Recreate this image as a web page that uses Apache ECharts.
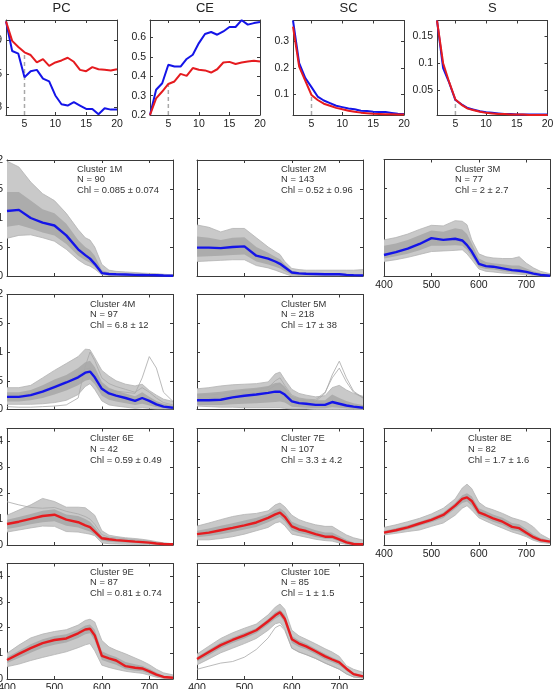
<!DOCTYPE html>
<html>
<head>
<meta charset="utf-8">
<script src="https://cdn.jsdelivr.net/npm/echarts@6/dist/echarts.min.js"></script>
<style>
  html, body { margin: 0; padding: 0; background: #fff; }
  #chart { width: 558px; height: 689px; }
</style>
</head>
<body>
<div id="chart"></div>
<script>
// ---- top row: validity indices vs number of clusters ----
const kValues = [2,3,4,5,6,7,8,9,10,11,12,13,14,15,16,17,18,19,20];
const pcBlue = [0.928,0.884,0.880,0.845,0.854,0.856,0.843,0.839,0.818,0.805,0.803,0.808,0.803,0.798,0.798,0.790,0.799,0.797,0.797];
const pcRed  = [0.928,0.899,0.890,0.882,0.878,0.867,0.872,0.862,0.867,0.870,0.874,0.868,0.856,0.854,0.860,0.857,0.856,0.855,0.857];
const ceBlue = [0.2,0.33,0.364,0.459,0.45,0.45,0.489,0.511,0.571,0.618,0.628,0.614,0.631,0.654,0.654,0.689,0.666,0.674,0.68];
const ceRed  = [0.2,0.286,0.321,0.36,0.373,0.412,0.402,0.442,0.433,0.43,0.419,0.436,0.471,0.474,0.463,0.471,0.476,0.48,0.476];
const scBlue = [0.38,0.218,0.161,0.127,0.091,0.076,0.066,0.056,0.051,0.046,0.043,0.037,0.036,0.033,0.032,0.032,0.029,0.026,0.025];
const scRed  = [0.357,0.205,0.151,0.097,0.078,0.064,0.056,0.048,0.043,0.037,0.033,0.03,0.028,0.026,0.025,0.024,0.024,0.023,0.023];
const sBlue  = [0.18,0.091,0.063,0.031,0.023,0.016,0.013,0.01,0.008,0.007,0.006,0.005,0.005,0.004,0.004,0.004,0.004,0.004,0.004];
const sRed   = [0.18,0.1,0.064,0.032,0.022,0.015,0.012,0.009,0.007,0.006,0.005,0.005,0.004,0.004,0.004,0.003,0.003,0.003,0.003];
const chosenK = 5;

// ---- cluster spectra (wavelength, nm) ----
const wavelengths = [400,425,450,475,500,525,550,565,575,585,600,615,630,650,670,685,700,715,730,750];

const c1Mean   = [1.12,1.14,1.0,0.92,0.87,0.7,0.46,0.36,0.3,0.21,0.05,0.035,0.03,0.025,0.02,0.018,0.015,0.012,0.008,0.005];
const c1Upper  = [1.98,1.88,1.62,1.42,1.3,1.08,0.8,0.66,0.62,0.5,0.2,0.1,0.08,0.07,0.06,0.05,0.045,0.04,0.03,0.02];
const c1Lower  = [0.65,0.7,0.71,0.66,0.6,0.46,0.28,0.2,0.17,0.12,0.02,0.01,0,0,0,0,0,0,0,0];
const c1CoreHi = [1.45,1.45,1.3,1.15,1.08,0.9,0.62,0.5,0.45,0.35,0.1,0.06,0.05,0.04,0.035,0.03,0.03,0.025,0.02,0.01];
const c1CoreLo = [0.85,0.88,0.82,0.75,0.7,0.55,0.35,0.27,0.23,0.16,0.03,0.02,0.015,0.01,0.01,0.008,0.006,0.004,0.002,0];

const c2Mean   = [0.49,0.49,0.48,0.5,0.51,0.35,0.3,0.25,0.21,0.15,0.06,0.045,0.04,0.035,0.03,0.03,0.03,0.02,0.015,0.01];
const c2Upper  = [0.88,0.84,0.76,0.82,0.82,0.66,0.5,0.42,0.37,0.25,0.13,0.11,0.1,0.1,0.1,0.1,0.1,0.1,0.1,0.11];
const c2Lower  = [0.25,0.26,0.27,0.28,0.28,0.18,0.14,0.1,0.07,0.04,0,0,0,0,0,0,0,0,0,0];
const c2CoreHi = [0.68,0.66,0.62,0.66,0.67,0.5,0.4,0.33,0.29,0.2,0.09,0.07,0.06,0.05,0.05,0.05,0.05,0.04,0.03,0.03];
const c2CoreLo = [0.33,0.34,0.35,0.36,0.37,0.25,0.2,0.16,0.13,0.08,0.02,0.01,0.01,0.01,0.01,0.01,0.01,0.005,0,0];

const c3Mean   = [0.36,0.41,0.47,0.55,0.65,0.62,0.64,0.61,0.53,0.42,0.21,0.17,0.16,0.13,0.1,0.09,0.07,0.04,0.02,0.005];
const c3Upper  = [0.62,0.66,0.72,0.8,0.87,0.86,0.95,0.94,0.88,0.62,0.38,0.33,0.31,0.3,0.3,0.33,0.22,0.14,0.08,0.04];
const c3Lower  = [0.25,0.28,0.32,0.37,0.42,0.43,0.44,0.45,0.38,0.28,0.12,0.08,0.07,0.05,0.04,0.03,0.02,0.01,0,0];
const c3CoreHi = [0.52,0.56,0.62,0.7,0.78,0.76,0.82,0.8,0.72,0.56,0.3,0.24,0.22,0.2,0.18,0.18,0.13,0.08,0.05,0.02];
const c3CoreLo = [0.3,0.34,0.38,0.44,0.52,0.52,0.53,0.52,0.45,0.34,0.15,0.12,0.11,0.08,0.06,0.05,0.04,0.02,0.01,0];

const c4Mean   = [0.22,0.22,0.25,0.31,0.39,0.47,0.56,0.64,0.66,0.56,0.36,0.28,0.24,0.2,0.15,0.2,0.15,0.09,0.05,0.03];
const c4Upper  = [0.38,0.38,0.42,0.55,0.68,0.8,0.92,1.05,1.04,0.9,0.68,0.58,0.5,0.44,0.41,0.44,0.33,0.25,0.18,0.14];
const c4Lower  = [0.09,0.09,0.09,0.1,0.12,0.16,0.26,0.4,0.45,0.35,0.15,0.08,0.06,0.04,0.02,0.03,0.02,0.01,0.01,0.01];
const c4CoreHi = [0.3,0.3,0.34,0.42,0.52,0.6,0.72,0.82,0.85,0.74,0.48,0.38,0.33,0.28,0.23,0.3,0.22,0.15,0.1,0.07];
const c4CoreLo = [0.14,0.14,0.16,0.2,0.26,0.33,0.42,0.5,0.52,0.44,0.24,0.17,0.14,0.11,0.08,0.1,0.07,0.04,0.02,0.01];
const c4Extra1 = [0.25,0.25,0.28,0.34,0.42,0.5,0.6,0.7,0.72,0.62,0.42,0.35,0.32,0.3,0.28,0.55,0.92,0.72,0.3,0.14];
const c4Extra2 = [0.05,0.04,0.04,0.05,0.06,0.08,0.2,0.75,1.0,0.85,0.55,0.45,0.4,0.35,0.3,0.38,0.3,0.2,0.12,0.08];

const c5Mean   = [0.16,0.16,0.17,0.21,0.24,0.26,0.29,0.31,0.31,0.26,0.14,0.11,0.1,0.08,0.08,0.13,0.1,0.07,0.05,0.03];
const c5Upper  = [0.36,0.38,0.41,0.43,0.44,0.45,0.48,0.62,0.65,0.52,0.35,0.28,0.25,0.22,0.24,0.38,0.42,0.34,0.28,0.23];
const c5Lower  = [0.06,0.05,0.04,0.04,0.03,0.03,0.03,0.03,0.03,0.02,0.01,0.01,0.01,0,0,0,0,0,0,0];
const c5CoreHi = [0.28,0.29,0.31,0.34,0.36,0.38,0.41,0.46,0.47,0.4,0.24,0.2,0.18,0.16,0.16,0.26,0.2,0.15,0.11,0.08];
const c5CoreLo = [0.08,0.08,0.08,0.09,0.1,0.11,0.12,0.13,0.14,0.12,0.05,0.04,0.03,0.02,0.02,0.04,0.03,0.02,0.01,0.01];
const c5Extra1 = [0.2,0.2,0.22,0.25,0.28,0.3,0.34,0.42,0.45,0.36,0.2,0.16,0.15,0.14,0.28,0.6,0.84,0.55,0.32,0.2];
const c5Extra2 = [0.25,0.25,0.27,0.3,0.33,0.35,0.38,0.5,0.55,0.42,0.25,0.2,0.18,0.17,0.3,0.55,0.72,0.48,0.3,0.2];

const c6Mean   = [0.81,0.9,1.01,1.12,1.17,0.98,0.88,0.76,0.69,0.52,0.26,0.22,0.19,0.16,0.13,0.11,0.09,0.06,0.04,0.03];
const c6Upper  = [1.15,1.35,1.55,1.8,1.68,1.46,1.46,1.44,1.3,1.15,0.55,0.38,0.33,0.28,0.25,0.22,0.18,0.13,0.08,0.05];
const c6Lower  = [0.5,0.58,0.66,0.73,0.72,0.52,0.5,0.45,0.42,0.36,0.08,0.05,0.04,0.03,0.02,0.02,0.01,0,0,0];
const c6CoreHi = [0.98,1.08,1.2,1.32,1.38,1.18,1.12,1.0,0.9,0.7,0.34,0.28,0.25,0.22,0.18,0.16,0.13,0.09,0.06,0.04];
const c6CoreLo = [0.62,0.7,0.8,0.88,0.92,0.74,0.68,0.58,0.52,0.4,0.16,0.13,0.11,0.09,0.07,0.06,0.05,0.03,0.02,0.01];
const c6Extra1 = [1.67,1.55,1.45,1.42,1.45,1.3,1.2,1.1,1.0,0.8,0.4,0.3,0.28,0.24,0.2,0.18,0.15,0.1,0.07,0.05];

const c7Mean   = [0.42,0.48,0.57,0.66,0.76,0.87,1.05,1.18,1.25,1.09,0.72,0.6,0.54,0.42,0.32,0.32,0.22,0.1,0.04,0.03];
const c7Upper  = [0.73,0.85,0.98,1.1,1.18,1.22,1.32,1.55,1.62,1.48,1.15,0.98,0.88,0.78,0.72,0.72,0.55,0.39,0.28,0.19];
const c7Lower  = [0.2,0.2,0.25,0.32,0.42,0.55,0.68,0.85,0.9,0.75,0.42,0.36,0.3,0.22,0.17,0.15,0.08,0.02,0.01,0];
const c7CoreHi = [0.55,0.64,0.74,0.84,0.95,1.05,1.2,1.35,1.42,1.28,0.9,0.78,0.7,0.57,0.48,0.48,0.35,0.2,0.1,0.07];
const c7CoreLo = [0.3,0.35,0.42,0.5,0.6,0.7,0.88,1.0,1.08,0.92,0.56,0.46,0.41,0.31,0.24,0.23,0.14,0.05,0.02,0.01];

const c8Mean   = [0.48,0.57,0.68,0.83,0.97,1.16,1.52,1.78,1.84,1.7,1.26,1.15,1.03,0.9,0.7,0.65,0.47,0.3,0.19,0.13];
const c8Upper  = [0.68,0.78,0.9,1.03,1.2,1.42,1.78,2.2,2.35,2.18,1.65,1.45,1.36,1.22,1.05,0.97,0.88,0.7,0.42,0.22];
const c8Lower  = [0.39,0.45,0.52,0.58,0.72,0.85,1.15,1.42,1.52,1.35,1.05,0.92,0.8,0.65,0.5,0.42,0.32,0.18,0.1,0.06];
const c8CoreHi = [0.55,0.65,0.76,0.9,1.05,1.26,1.62,1.92,2.0,1.88,1.42,1.3,1.18,1.05,0.85,0.8,0.62,0.42,0.27,0.17];
const c8CoreLo = [0.43,0.5,0.6,0.74,0.88,1.04,1.4,1.62,1.68,1.52,1.12,1.02,0.9,0.77,0.58,0.52,0.37,0.22,0.13,0.09];

const c9Mean   = [0.74,0.98,1.2,1.4,1.52,1.58,1.78,1.93,1.96,1.7,0.9,0.8,0.72,0.5,0.44,0.41,0.3,0.17,0.08,0.05];
const c9Upper  = [1.0,1.32,1.6,1.75,1.85,1.92,2.1,2.28,2.33,2.22,1.5,1.25,1.12,0.98,0.82,0.7,0.56,0.38,0.24,0.16];
const c9Lower  = [0.48,0.58,0.72,0.84,0.95,1.06,1.22,1.33,1.38,1.1,0.54,0.45,0.38,0.3,0.25,0.22,0.15,0.07,0.02,0];
const c9CoreHi = [0.85,1.1,1.35,1.55,1.68,1.74,1.92,2.08,2.12,1.92,1.08,0.95,0.86,0.66,0.57,0.52,0.4,0.25,0.13,0.08];
const c9CoreLo = [0.62,0.82,1.02,1.22,1.33,1.42,1.6,1.74,1.78,1.5,0.74,0.64,0.56,0.38,0.32,0.3,0.2,0.1,0.04,0.02];

const c10Mean   = [0.78,1.05,1.32,1.52,1.7,1.9,2.25,2.48,2.6,2.35,1.55,1.38,1.27,1.08,0.88,0.76,0.65,0.4,0.19,0.1];
const c10Upper  = [0.97,1.28,1.58,1.8,1.98,2.14,2.5,2.8,2.92,2.72,1.9,1.68,1.55,1.37,1.18,1.05,0.88,0.52,0.38,0.26];
const c10Lower  = [0.55,0.78,1.02,1.2,1.38,1.58,1.9,2.15,2.2,1.95,1.2,1.05,0.95,0.8,0.62,0.5,0.38,0.2,0.08,0.04];
const c10CoreHi = [0.86,1.14,1.42,1.62,1.8,1.98,2.34,2.6,2.7,2.5,1.68,1.5,1.38,1.18,0.98,0.85,0.72,0.45,0.24,0.14];
const c10CoreLo = [0.68,0.93,1.2,1.4,1.58,1.78,2.12,2.35,2.45,2.2,1.4,1.25,1.15,0.96,0.76,0.65,0.54,0.32,0.14,0.06];
const c10Extra1 = [0.38,0.5,0.62,0.68,0.85,1.15,1.6,2.0,2.1,1.9,1.2,1.05,0.95,0.8,0.62,0.5,0.38,0.2,0.08,0.04];

const wlTicks = [400,500,600,700];
const mTicks = [0,0.5,1,1.5,2];
const eTicks = [0,1,2,3,4];

const clusters = [
  { name: 'Cluster 1M', n: 'N = 90',  chl: 'Chl = 0.085 ± 0.074', type: 'M', mean: c1Mean, upper: c1Upper, lower: c1Lower, hi: c1CoreHi, lo: c1CoreLo, extras: [] },
  { name: 'Cluster 2M', n: 'N = 143', chl: 'Chl = 0.52 ± 0.96', type: 'M', mean: c2Mean, upper: c2Upper, lower: c2Lower, hi: c2CoreHi, lo: c2CoreLo, extras: [] },
  { name: 'Cluster 3M', n: 'N = 77',  chl: 'Chl = 2 ± 2.7', type: 'M', mean: c3Mean, upper: c3Upper, lower: c3Lower, hi: c3CoreHi, lo: c3CoreLo, extras: [] },
  { name: 'Cluster 4M', n: 'N = 97',  chl: 'Chl = 6.8 ± 12', type: 'M', mean: c4Mean, upper: c4Upper, lower: c4Lower, hi: c4CoreHi, lo: c4CoreLo, extras: [c4Extra1, c4Extra2] },
  { name: 'Cluster 5M', n: 'N = 218', chl: 'Chl = 17 ± 38', type: 'M', mean: c5Mean, upper: c5Upper, lower: c5Lower, hi: c5CoreHi, lo: c5CoreLo, extras: [c5Extra1, c5Extra2] },
  { name: 'Cluster 6E', n: 'N = 42',  chl: 'Chl = 0.59 ± 0.49', type: 'E', mean: c6Mean, upper: c6Upper, lower: c6Lower, hi: c6CoreHi, lo: c6CoreLo, extras: [c6Extra1] },
  { name: 'Cluster 7E', n: 'N = 107', chl: 'Chl = 3.3 ± 4.2', type: 'E', mean: c7Mean, upper: c7Upper, lower: c7Lower, hi: c7CoreHi, lo: c7CoreLo, extras: [] },
  { name: 'Cluster 8E', n: 'N = 82',  chl: 'Chl = 1.7 ± 1.6', type: 'E', mean: c8Mean, upper: c8Upper, lower: c8Lower, hi: c8CoreHi, lo: c8CoreLo, extras: [] },
  { name: 'Cluster 9E', n: 'N = 87',  chl: 'Chl = 0.81 ± 0.74', type: 'E', mean: c9Mean, upper: c9Upper, lower: c9Lower, hi: c9CoreHi, lo: c9CoreLo, extras: [] },
  { name: 'Cluster 10E', n: 'N = 85', chl: 'Chl = 1 ± 1.5', type: 'E', mean: c10Mean, upper: c10Upper, lower: c10Lower, hi: c10CoreHi, lo: c10CoreLo, extras: [c10Extra1] }
];

// layout: [left, top, width, height], text anchor [x, y of first line], show x labels, show y labels
const clusterLayout = [
  { box: [7, 160, 166, 116],   text: [77, 169],    xl: false, yl: true },
  { box: [197, 160, 166, 116], text: [281, 169],   xl: false, yl: false },
  { box: [384, 159.5, 166, 116.5], text: [455, 169], xl: true, yl: false },
  { box: [7, 294.5, 166, 115], text: [90, 304],    xl: false, yl: true },
  { box: [197, 294.5, 166, 115], text: [281, 304], xl: false, yl: false },
  { box: [7, 428.5, 166, 116.5], text: [90, 438.5], xl: false, yl: true },
  { box: [197, 428.5, 166, 116.5], text: [281, 438.5], xl: false, yl: false },
  { box: [384, 428.5, 166, 116.5], text: [468, 438.5], xl: true, yl: false },
  { box: [7, 563.5, 166, 115.5], text: [90, 572],  xl: true, yl: true },
  { box: [197, 563.5, 166, 115.5], text: [281, 572], xl: true, yl: false }
];

const FONT = '"Liberation Sans", Arial, Helvetica, sans-serif';
const BLUE = '#1414e8';
const RED = '#e51b1f';
const AXIS = '#3a3a3a';

const grids = [], xAxes = [], yAxes = [], series = [], graphics = [];

function zip(xs, ys) { return xs.map((x, i) => [x, ys[i]]); }

function addPanel(box, xr, yr, xTicks, yTicks, showX, showY) {
  const gi = grids.length;
  grids.push({ left: box[0], top: box[1], width: box[2], height: box[3], outerBoundsMode: 'none', containLabel: false });
  const line = { show: true, onZero: false, lineStyle: { color: AXIS, width: 1 } };
  const tickX = { show: true, inside: true, length: 3, customValues: xTicks, lineStyle: { color: AXIS } };
  const tickY = { show: true, inside: true, length: 3, customValues: yTicks, lineStyle: { color: AXIS } };
  const label = { fontSize: 10.5, color: '#222', fontFamily: FONT, margin: 4 };
  const xi = xAxes.length, yi = yAxes.length;
  xAxes.push({ type: 'value', gridIndex: gi, position: 'bottom', min: xr[0], max: xr[1],
    axisLine: line, axisTick: tickX, splitLine: { show: false },
    axisLabel: Object.assign({ show: showX, customValues: xTicks, hideOverlap: false }, label) });
  xAxes.push({ type: 'value', gridIndex: gi, position: 'top', min: xr[0], max: xr[1],
    axisLine: line, axisTick: tickX, splitLine: { show: false }, axisLabel: { show: false } });
  yAxes.push({ type: 'value', gridIndex: gi, position: 'left', min: yr[0], max: yr[1],
    axisLine: line, axisTick: tickY, splitLine: { show: false },
    axisLabel: Object.assign({ show: showY, customValues: yTicks, hideOverlap: false }, label) });
  yAxes.push({ type: 'value', gridIndex: gi, position: 'right', min: yr[0], max: yr[1],
    axisLine: line, axisTick: tickY, splitLine: { show: false }, axisLabel: { show: false } });
  return { xi, yi };
}

function lineSeries(ax, xs, ys, color, width, z, dashed) {
  return { type: 'line', xAxisIndex: ax.xi, yAxisIndex: ax.yi, data: zip(xs, ys),
    symbol: 'none', silent: true, animation: false, z: z,
    lineStyle: { color: color, width: width, type: dashed ? [4, 3] : 'solid' } };
}

function bandSeries(ax, xs, lo, hi, color, z) {
  return { type: 'custom', xAxisIndex: ax.xi, yAxisIndex: ax.yi, silent: true, animation: false, z: z,
    data: [[xs[0], lo[0]]],
    renderItem: function (params, api) {
      const top = xs.map((x, i) => api.coord([x, hi[i]]));
      const bot = xs.map((x, i) => api.coord([x, lo[i]])).reverse();
      return { type: 'polygon', shape: { points: top.concat(bot) }, style: { fill: color } };
    } };
}

// top row panels
const topPanels = [
  { title: 'PC', box: [6, 20, 111, 95],   yr: [0.789, 0.93], yTicks: [0.8, 0.85, 0.9], blue: pcBlue, red: pcRed },
  { title: 'CE', box: [150, 20, 110, 95], yr: [0.2, 0.69],   yTicks: [0.2, 0.3, 0.4, 0.5, 0.6], blue: ceBlue, red: ceRed },
  { title: 'SC', box: [293, 20.5, 111, 94.5], yr: [0.021, 0.38], yTicks: [0.1, 0.2, 0.3], blue: scBlue, red: scRed },
  { title: 'S',  box: [437, 20.5, 110.5, 94.5], yr: [0.003, 0.18], yTicks: [0.05, 0.1, 0.15], blue: sBlue, red: sRed }
];

topPanels.forEach(p => {
  const ax = addPanel(p.box, [2, 20], p.yr, [5, 10, 15, 20], p.yTicks, true, true);
  const redAtK = p.red[kValues.indexOf(chosenK)];
  series.push(lineSeries(ax, [chosenK, chosenK], [p.yr[0], redAtK], '#a8a8a8', 1.5, 2, true));
  series.push(lineSeries(ax, kValues, p.blue, BLUE, 2, 3));
  series.push(lineSeries(ax, kValues, p.red, RED, 2, 4));
  graphics.push({ type: 'text', x: p.box[0] + p.box[2] / 2, y: 8,
    style: { text: p.title, fontSize: 13, fontFamily: FONT, fill: '#222', align: 'center', verticalAlign: 'middle' } });
});

// cluster panels
clusters.forEach((c, i) => {
  const L = clusterLayout[i];
  const isM = c.type === 'M';
  const ax = addPanel(L.box, [400, 750], isM ? [0, 2] : [0, 4.5], wlTicks, isM ? mTicks : eTicks, L.xl, L.yl);
  series.push(bandSeries(ax, wavelengths, c.lower, c.upper, '#c9c9c9', 1));
  series.push(bandSeries(ax, wavelengths, c.lo, c.hi, '#acacac', 2));
  series.push(lineSeries(ax, wavelengths, c.upper, '#b2b2b2', 0.8, 3));
  series.push(lineSeries(ax, wavelengths, c.lower, '#b2b2b2', 0.8, 3));
  c.extras.forEach(e => series.push(lineSeries(ax, wavelengths, e, '#a8a8a8', 0.8, 3)));
  series.push(lineSeries(ax, wavelengths, c.mean, isM ? BLUE : RED, 2.4, 5));
  graphics.push({ type: 'text', x: L.text[0], y: L.text[1] - 5.4,
    style: { text: c.name + '\n' + c.n + '\n' + c.chl, fontSize: 9.4, lineHeight: 10.8,
      fontFamily: FONT, fill: '#333', align: 'left', verticalAlign: 'top' } });
});

const chart = echarts.init(document.getElementById('chart'), null, { renderer: 'canvas' });
chart.setOption({
  backgroundColor: '#fff',
  animation: false,
  grid: grids,
  xAxis: xAxes,
  yAxis: yAxes,
  series: series,
  graphic: graphics
});
</script>
</body>
</html>
